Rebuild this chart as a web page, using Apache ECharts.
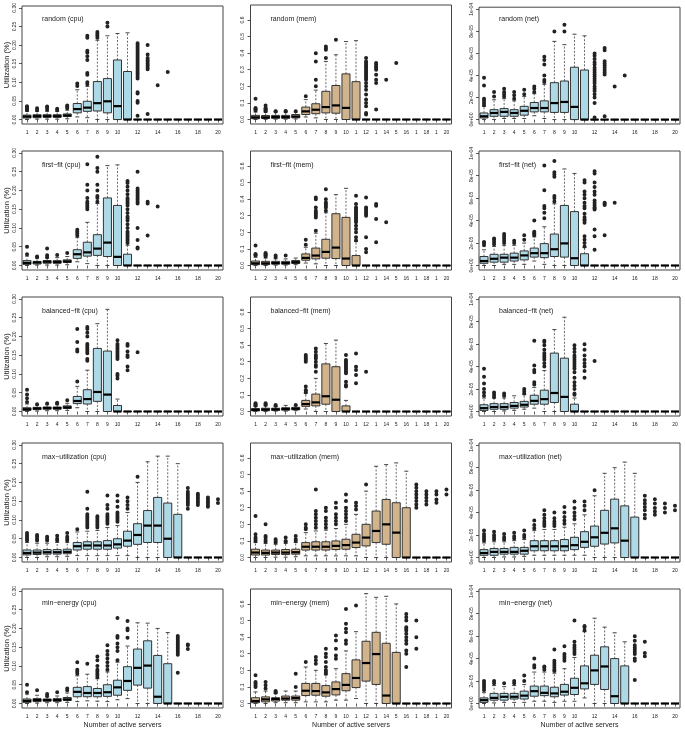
<!DOCTYPE html>
<html><head><meta charset="utf-8">
<script src="https://cdn.jsdelivr.net/npm/echarts@6/dist/echarts.min.js"></script>
<style>html,body{margin:0;padding:0;background:#fff}#c{width:685px;height:730px}</style>
</head><body><div id="c"></div>
<script>
// ---------- categories and tick labels ----------
const categories = ['1','2','3','4','5','6','7','8','9','10','11','12','13','14','15','16','17','18','19','20'];
const xTickLabels = ['1','2','3','4','5','6','7','8','9','10','','12','','14','','16','','18','','20'];
const xTickLabelsMem = ['1','2','3','4','5','6','7','8','9','10','1','12','1','14','5','16','1','18','1','20'];
const cpuTicks = [0, 0.05, 0.10, 0.15, 0.20, 0.25, 0.30];
const cpuTickLabels = ['0.00','0.05','0.10','0.15','0.20','0.25','0.30'];
const memTicks = [0, 0.1, 0.2, 0.3, 0.4, 0.5, 0.6];
const memTickLabels = ['0.0','0.1','0.2','0.3','0.4','0.5','0.6'];
// net values are stored in units of 1e-5
const netTicks = [0, 2, 4, 6, 8, 10];
const netTickLabels = ['0e+00','2e-05','4e-05','6e-05','8e-05','1e-04'];

// ---------- box statistics: [min, Q1, median, Q3, max] per category ----------
const randomCpu = [[0,0.004,0.008,0.012,0.022],[0.001,0.005,0.009,0.013,0.022],[0.001,0.006,0.009,0.013,0.022],[0.001,0.006,0.009,0.013,0.022],[0.002,0.008,0.011,0.015,0.025],[0.007,0.018,0.028,0.043,0.080],[0.005,0.022,0.032,0.049,0.089],[0,0.023,0.044,0.102,0.213],[0,0.018,0.049,0.110,0.225],[0,0,0.036,0.160,0.231],[0,0,0,0.129,0.233],[0,0,0,0,0],[0,0,0,0,0],[0,0,0,0,0],[0,0,0,0,0],[0,0,0,0,0],[0,0,0,0,0],[0,0,0,0,0],[0,0,0,0,0],[0,0,0,0,0]];
const randomCpuOut = [[0.025,0.028,0.030,0.033,0.036],[0.025,0.030],[0.026,0.032,0.035],[0.025,0.029],[0.030,0.035,0.038],[0.090,0.097],[0.095,0.100,0.120,0.125,0.160,0.170,0.180,0.185,0.220,0.225],[0.220,0.225,0.230,0.235],[0.250,0.260],[],[],[0.010,0.045,0.050,0.070,0.073,0.110,0.115,0.120,0.125,0.130,0.135,0.140,0.145,0.150,0.155,0.160,0.165,0.170,0.175,0.180,0.185,0.190,0.195,0.200,0.205],[0.015,0.135,0.140,0.145,0.150,0.155,0.160,0.165,0.175,0.200],[0.092],[0.128],[],[],[],[],[]];

const randomMem = [[0,0.005,0.013,0.025,0.045],[0.001,0.006,0.013,0.024,0.045],[0.002,0.007,0.015,0.025,0.045],[0.002,0.007,0.015,0.025,0.045],[0.003,0.010,0.018,0.030,0.045],[0.015,0.030,0.049,0.075,0.120],[0.010,0.035,0.059,0.095,0.177],[0,0.040,0.075,0.170,0.350],[0,0.038,0.085,0.205,0.390],[0,0,0.070,0.275,0.470],[0,0,0,0.228,0.475],[0,0,0,0,0],[0,0,0,0,0],[0,0,0,0,0],[0,0,0,0,0],[0,0,0,0,0],[0,0,0,0,0],[0,0,0,0,0],[0,0,0,0,0],[0,0,0,0,0]];
const randomMemOut = [[0.055,0.060,0.065,0.070,0.125],[0.050,0.055,0.060,0.065,0.070,0.085],[0.048,0.050],[0.048,0.052],[0.050],[0.140],[0.200,0.240,0.350,0.400],[0.370,0.420,0.430,0.440],[0.480],[],[],[0.030,0.040,0.080,0.100,0.120,0.150,0.180,0.200,0.220,0.240,0.250,0.260,0.270,0.280,0.290,0.300,0.310,0.320,0.330,0.340,0.350,0.370],[0.060,0.220,0.240,0.270,0.300,0.310,0.320,0.330,0.340],[0.240],[0.340],[],[],[],[],[]];

const randomNet = [[0,0.15,0.3,0.6,1.2],[0,0.3,0.6,0.9,1.8],[0.1,0.3,0.7,1.0,1.9],[0.1,0.3,0.6,0.9,1.7],[0.1,0.4,0.8,1.2,2.1],[0.35,0.7,1.05,1.55,2.35],[0.1,0.7,1.05,1.7,3.2],[0,0.65,1.5,3.35,7.1],[0,0.65,1.6,3.5,6.8],[0,0,1.15,4.75,7.75],[0,0,0,4.5,7.6],[0,0,0,0,0],[0,0,0,0,0],[0,0,0,0,0],[0,0,0,0,0],[0,0,0,0,0],[0,0,0,0,0],[0,0,0,0,0],[0,0,0,0,0],[0,0,0,0,0]];
const randomNetOut = [[1.3,1.5,1.7,1.9,3.1,3.8],[2.1,2.5],[2.1,2.3,2.5,2.8],[1.9,2.2,2.5],[2.3,2.7],[2.5,2.8,3.0],[3.4,3.6,4.0,5.0,5.4,5.7],[8.0],[8.0,8.6],[],[],[0.2,1.5,2.0,2.3,2.6,2.8,3.0,3.3,3.5,3.7,3.9,4.1,4.3,4.5,4.7,5.0,5.2,5.5,5.8,6.0],[0.3,4.1,4.3,4.5,4.7,4.9,5.1,5.3,6.3,6.5],[3.0],[4.0],[],[],[],[],[]];

const firstCpu = [[0,0.003,0.007,0.013,0.025],[0.001,0.004,0.008,0.011,0.020],[0.001,0.006,0.010,0.013,0.020],[0.001,0.006,0.009,0.013,0.021],[0.002,0.008,0.011,0.015,0.024],[0.010,0.019,0.030,0.042,0.075],[0.005,0.025,0.035,0.062,0.115],[0,0.027,0.045,0.082,0.165],[0,0.024,0.061,0.180,0.266],[0,0,0.023,0.160,0.268],[0,0,0,0.030,0.054],[0,0,0,0,0],[0,0,0,0,0],[0,0,0,0,0],[0,0,0,0,0],[0,0,0,0,0],[0,0,0,0,0],[0,0,0,0,0],[0,0,0,0,0],[0,0,0,0,0]];
const firstCpuOut = [[0.030,0.050],[0.022,0.024],[0.022,0.027,0.045],[0.028],[0.033],[0.080,0.085,0.090,0.095],[0.150,0.155,0.160,0.165,0.170,0.180,0.200,0.215,0.270],[0.170,0.180,0.185,0.200,0.215,0.250,0.260,0.290],[],[],[0.060,0.065,0.070,0.075,0.080,0.085,0.090,0.100,0.110,0.120,0.125,0.130,0.140,0.150,0.160,0.165,0.170,0.175,0.180,0.190,0.200,0.210,0.220,0.225],[0.045,0.048,0.068,0.100,0.165,0.170,0.175,0.180,0.185,0.190,0.195,0.200,0.205,0.250],[0.080,0.165,0.170],[0.157],[],[],[],[],[],[]];

const firstMem = [[0,0.005,0.013,0.027,0.050],[0,0.005,0.013,0.025,0.045],[0.002,0.008,0.015,0.025,0.040],[0.002,0.008,0.015,0.025,0.040],[0.005,0.012,0.020,0.030,0.045],[0.015,0.032,0.046,0.070,0.110],[0.010,0.040,0.060,0.105,0.195],[0,0.044,0.082,0.158,0.318],[0,0.042,0.108,0.312,0.427],[0,0,0.042,0.290,0.465],[0,0,0,0.060,0.145],[0,0,0,0,0],[0,0,0,0,0],[0,0,0,0,0],[0,0,0,0,0],[0,0,0,0,0],[0,0,0,0,0],[0,0,0,0,0],[0,0,0,0,0],[0,0,0,0,0]];
const firstMemOut = [[0.060,0.065,0.070,0.120],[0.055,0.060,0.065,0.070,0.075],[0.050,0.060],[0.060],[],[0.125,0.155],[0.210,0.290,0.300,0.310,0.320,0.330,0.350,0.400,0.410],[0.330,0.350,0.360,0.370,0.380,0.400,0.460],[],[],[0.150,0.170,0.200,0.220,0.240,0.260,0.270,0.280,0.290,0.300,0.310,0.320,0.330,0.340,0.350,0.370,0.420],[0.080,0.100,0.170,0.300,0.310,0.320,0.330,0.340,0.350,0.410],[0.140,0.280,0.360,0.370],[0.260],[],[],[],[],[],[]];

const firstNet = [[0,0.2,0.4,0.8,1.4],[0,0.3,0.6,1.0,1.7],[0.1,0.3,0.7,1.0,1.8],[0.1,0.4,0.7,1.1,1.8],[0.1,0.5,0.9,1.3,2.0],[0.4,0.75,1.1,1.55,2.55],[0.1,0.7,1.1,1.95,3.45],[0,0.8,1.45,2.8,5.5],[0,0.75,1.97,5.35,8.6],[0,0,0.65,4.8,8.2],[0,0,0,1.05,1.6],[0,0,0,0,0],[0,0,0,0,0],[0,0,0,0,0],[0,0,0,0,0],[0,0,0,0,0],[0,0,0,0,0],[0,0,0,0,0],[0,0,0,0,0],[0,0,0,0,0]];
const firstNetOut = [[1.8,2.0,2.1],[1.9,2.1,2.3,2.4],[2.0,2.2,2.4,2.6,2.8],[2.0,2.2],[2.3,2.7],[2.7,2.8,2.9,3.0,4.0],[4.2,4.7,5.1,5.3,6.7,8.9],[5.7,6.0,6.2,7.9,8.1,8.3,9.3],[],[],[1.7,2.0,2.3,2.6,3.8,4.0,4.1,4.3,4.6,5.1,5.3,5.6,6.0,6.3,6.6,7.4,7.6],[1.4,2.6,3.2,5.0,5.1,5.2,5.4,5.6,5.8,6.3,6.6,7.0,7.4,8.2,8.4],[2.7,5.4,5.5,5.6],[5.6],[],[],[],[],[],[]];

const balCpu = [[0,0.003,0.006,0.010,0.020],[0.001,0.005,0.008,0.011,0.017],[0.002,0.006,0.009,0.012,0.018],[0.002,0.006,0.009,0.012,0.018],[0.003,0.008,0.011,0.015,0.022],[0.010,0.021,0.028,0.040,0.067],[0,0.020,0.033,0.058,0.110],[0,0.027,0.052,0.168,0.234],[0,0,0.045,0.161,0.272],[0,0,0,0.016,0.033],[0,0,0,0,0],[0,0,0,0,0],[0,0,0,0,0],[0,0,0,0,0],[0,0,0,0,0],[0,0,0,0,0],[0,0,0,0,0],[0,0,0,0,0],[0,0,0,0,0],[0,0,0,0,0]];
const balCpuOut = [[0.025,0.035,0.045,0.058],[0.019],[0.021],[0.021,0.023],[0.030],[0.080,0.160,0.165,0.185,0.220],[0.135,0.140,0.155,0.160,0.165,0.170,0.175,0.180,0.200,0.210,0.220,0.225],[],[],[0.088,0.095,0.100,0.140,0.145,0.150,0.155,0.160,0.165,0.170,0.175,0.180,0.190],[0.110,0.120,0.145,0.150,0.160,0.175,0.180],[0.158],[],[],[],[],[],[],[],[]];

const balMem = [[0,0.004,0.010,0.018,0.030],[0,0.005,0.012,0.020,0.035],[0.002,0.007,0.013,0.020,0.030],[0.002,0.008,0.015,0.023,0.037],[0.005,0.010,0.017,0.025,0.035],[0.015,0.031,0.045,0.067,0.110],[0,0.034,0.055,0.105,0.200],[0,0.044,0.092,0.287,0.410],[0,0,0.071,0.270,0.430],[0,0,0,0.034,0.067],[0,0,0,0,0],[0,0,0,0,0],[0,0,0,0,0],[0,0,0,0,0],[0,0,0,0,0],[0,0,0,0,0],[0,0,0,0,0],[0,0,0,0,0],[0,0,0,0,0],[0,0,0,0,0]];
const balMemOut = [[0.035,0.040,0.045,0.050],[0.040,0.045,0.050],[0.035,0.040],[],[0.040],[0.115,0.125,0.130,0.150,0.300,0.310,0.320,0.330,0.340],[0.240,0.270,0.280,0.300,0.320,0.330,0.340,0.360,0.380],[],[],[0.150,0.160,0.180,0.230,0.240,0.250,0.260,0.270,0.280,0.290,0.300,0.310,0.340],[0.170,0.220,0.250,0.270,0.350],[0.240],[],[],[],[],[],[],[],[]];

const balNet = [[0,0.1,0.3,0.6,1.2],[0,0.2,0.4,0.7,1.2],[0.05,0.2,0.4,0.7,1.2],[0.1,0.3,0.5,0.8,1.4],[0.2,0.4,0.6,0.9,1.5],[0.3,0.65,0.95,1.45,2.15],[0,0.65,1.1,1.9,3.65],[0,0.8,1.65,5.2,7.3],[0,0,1.3,4.75,8.4],[0,0,0,0.65,1.2],[0,0,0,0,0],[0,0,0,0,0],[0,0,0,0,0],[0,0,0,0,0],[0,0,0,0,0],[0,0,0,0,0],[0,0,0,0,0],[0,0,0,0,0],[0,0,0,0,0],[0,0,0,0,0]];
const balNetOut = [[1.4,1.7,2.0,2.5,3.1,3.8],[1.3,1.5,1.7],[1.4,1.6],[],[1.6,1.8,2.0],[2.4,2.6,3.5,3.7,4.1,6.3],[4.0,4.3,4.6,4.8,5.0,5.2,5.5,5.9,6.2,6.3],[],[],[1.5,1.6,2.0,2.3,2.6,3.0,3.5,3.8,4.0,4.2,4.4,4.6,4.8,5.0,5.3,5.6,5.9],[3.0,3.6,4.0,4.3,4.6,5.0,5.5,6.0],[4.5],[],[],[],[],[],[],[],[]];

const maxCpu = [[0,0.007,0.012,0.020,0.040],[0,0.008,0.013,0.020,0.038],[0.002,0.009,0.014,0.021,0.038],[0.002,0.009,0.014,0.021,0.040],[0.003,0.010,0.015,0.022,0.040],[0.005,0.020,0.030,0.040,0.068],[0.005,0.022,0.032,0.042,0.070],[0.005,0.022,0.032,0.042,0.072],[0.005,0.022,0.032,0.045,0.080],[0.005,0.025,0.035,0.050,0.085],[0.005,0.030,0.045,0.070,0.120],[0,0.035,0.060,0.090,0.200],[0,0.040,0.085,0.125,0.255],[0,0.040,0.085,0.160,0.270],[0,0,0.050,0.145,0.270],[0,0,0,0.115,0.250],[0,0,0,0,0],[0,0,0,0,0],[0,0,0,0,0],[0,0,0,0,0]];
const maxCpuOut = [[0.045,0.050,0.055,0.060,0.065],[0.045,0.050,0.055,0.060],[0.045,0.050,0.055],[0.045,0.050,0.058],[0.045,0.050,0.055,0.065],[0.075],[0.080,0.085,0.090,0.095,0.100,0.105,0.110,0.115,0.130,0.175],[0.080,0.085,0.090,0.095,0.100,0.105,0.110],[0.090,0.095,0.100,0.105,0.110,0.115,0.130,0.140,0.165],[0.095,0.100,0.105,0.110,0.115,0.120,0.135,0.150,0.165],[0.130,0.140,0.150,0.160],[0.215],[],[],[],[],[0.130,0.140,0.145,0.150,0.155,0.160,0.165,0.170,0.175,0.185],[0.140,0.145,0.150,0.155,0.160,0.165,0.170],[0.135,0.140,0.145,0.150,0.155,0.160],[0.145,0.155]];

const maxMem = [[0,0.015,0.030,0.050,0.090],[0,0.015,0.028,0.045,0.085],[0.002,0.018,0.030,0.045,0.080],[0.002,0.018,0.030,0.048,0.085],[0.005,0.020,0.032,0.050,0.090],[0.010,0.045,0.065,0.090,0.150],[0.010,0.045,0.065,0.095,0.160],[0.010,0.045,0.065,0.095,0.165],[0.010,0.048,0.070,0.100,0.175],[0.010,0.050,0.075,0.110,0.200],[0.010,0.060,0.090,0.140,0.260],[0,0.070,0.120,0.200,0.400],[0,0.090,0.160,0.280,0.550],[0,0.080,0.200,0.350,0.560],[0,0,0.150,0.330,0.570],[0,0,0,0.300,0.520],[0,0,0,0,0],[0,0,0,0,0],[0,0,0,0,0],[0,0,0,0,0]];
const maxMemOut = [[0.100,0.110,0.120,0.140,0.250],[0.095,0.105,0.120,0.130,0.200],[0.090,0.100,0.110],[0.095,0.100,0.120],[0.100,0.110,0.130],[0.170,0.180,0.200],[0.180,0.200,0.220,0.240,0.260,0.280,0.410],[0.180,0.200,0.220,0.240,0.280,0.300],[0.200,0.220,0.240,0.260,0.300,0.330],[0.220,0.240,0.260,0.280,0.300,0.340,0.380],[0.290,0.310,0.330],[0.440],[],[],[],[],[0.300,0.320,0.340,0.360,0.380,0.400,0.420,0.440],[0.320,0.340,0.360,0.380,0.400],[0.330,0.350,0.380,0.400],[0.380,0.410]];

const maxNet = [[0,0.2,0.4,0.7,1.3],[0,0.2,0.5,0.8,1.4],[0.05,0.3,0.5,0.8,1.4],[0.05,0.3,0.5,0.9,1.5],[0.1,0.3,0.6,0.9,1.6],[0.2,0.6,1.0,1.5,2.4],[0.2,0.6,1.0,1.5,2.5],[0.2,0.6,1.0,1.5,2.5],[0.2,0.6,1.0,1.6,2.7],[0.2,0.7,1.1,1.8,3.0],[0.2,0.9,1.4,2.3,3.8],[0,1.0,1.8,2.8,5.5],[0,1.2,2.2,4.2,7.5],[0,1.3,2.6,5.2,8.0],[0,0,1.5,4.6,8.5],[0,0,0,3.6,7.5],[0,0,0,0,0],[0,0,0,0,0],[0,0,0,0,0],[0,0,0,0,0]];
const maxNetOut = [[1.5,1.7,1.9,2.1,2.4],[1.6,1.8,2.0,2.3],[1.6,1.8,2.1],[1.7,1.9,2.2],[1.8,2.0,2.4],[2.6,2.9,3.3],[2.8,3.0,3.2,3.5,3.8,4.2],[2.8,3.0,3.2,3.5,4.0],[3.0,3.3,3.6,4.0,4.5],[3.4,3.7,4.0,4.4,5.0],[4.2,4.6,5.0],[6.0],[],[],[],[],[3.5,3.8,4.2,4.5,4.8,5.1,5.5],[3.8,4.1,4.4,4.8,5.2],[4.0,4.4,4.8],[4.2,4.6]];

const minCpu = [[0,0.003,0.007,0.012,0.025],[0.001,0.005,0.009,0.013,0.022],[0.002,0.006,0.009,0.012,0.018],[0.002,0.006,0.009,0.013,0.020],[0.003,0.008,0.011,0.016,0.028],[0.005,0.018,0.031,0.043,0.074],[0.007,0.018,0.028,0.045,0.078],[0.006,0.018,0.028,0.040,0.066],[0.005,0.019,0.030,0.050,0.084],[0.010,0.022,0.043,0.062,0.110],[0.013,0.035,0.060,0.098,0.153],[0,0.049,0.095,0.145,0.215],[0,0.041,0.101,0.167,0.214],[0,0,0.018,0.128,0.200],[0,0,0,0.106,0.189],[0,0,0,0,0],[0,0,0,0,0],[0,0,0,0,0],[0,0,0,0,0],[0,0,0,0,0]];
const minCpuOut = [[0.030,0.050],[0.035],[0.020,0.025],[0.030],[0.035,0.040],[0.080,0.085,0.090,0.110],[0.106],[0.070,0.075,0.080,0.085,0.090,0.100,0.115,0.125],[0.090,0.100,0.110,0.120,0.130,0.140,0.155],[0.115,0.140,0.150,0.160,0.175,0.180,0.228],[0.175,0.195,0.200,0.220],[],[],[],[],[0.082,0.130,0.135,0.140,0.145,0.150,0.155,0.160,0.165,0.170,0.175,0.180],[0.145,0.155,0.157],[],[],[]];

const minMem = [[0,0.005,0.015,0.035,0.070],[0,0.010,0.025,0.040,0.075],[0.005,0.015,0.027,0.035,0.060],[0.005,0.020,0.030,0.045,0.075],[0.005,0.020,0.033,0.045,0.075],[0.010,0.048,0.077,0.121,0.220],[0.010,0.050,0.075,0.121,0.200],[0.010,0.044,0.067,0.108,0.173],[0.020,0.052,0.087,0.130,0.210],[0.020,0.077,0.112,0.180,0.317],[0.030,0.096,0.154,0.263,0.433],[0,0.135,0.244,0.375,0.662],[0,0.115,0.298,0.429,0.640],[0,0,0.048,0.363,0.646],[0,0,0,0.308,0.600],[0,0,0,0,0],[0,0,0,0,0],[0,0,0,0,0],[0,0,0,0,0],[0,0,0,0,0]];
const minMemOut = [[0.100,0.110,0.120,0.130,0.170],[0.090,0.110,0.130],[0.065,0.070,0.075],[],[0.100,0.180],[0.250],[0.240,0.260,0.280],[0.180,0.190,0.200,0.220,0.250,0.280,0.300,0.330],[0.270,0.290,0.330,0.380,0.410],[0.360,0.380,0.430,0.450,0.480,0.570],[0.590],[],[],[],[],[0.220,0.300,0.320,0.360,0.380,0.400,0.420,0.440,0.450,0.460,0.500,0.520,0.540],[0.330,0.400,0.500],[],[],[]];

const minNet = [[0,0.1,0.3,0.5,1.0],[0.05,0.3,0.5,0.9,1.6],[0.1,0.3,0.6,0.9,1.5],[0.1,0.4,0.6,0.9,1.6],[0.1,0.4,0.7,1.1,1.7],[0.2,0.65,1.1,1.55,2.8],[0.2,0.7,0.95,1.55,2.8],[0.1,0.6,0.9,1.45,2.7],[0.2,0.75,1.05,1.7,3.1],[0.2,0.8,1.4,2.25,4.1],[0.5,1.3,1.8,3.35,6.4],[0,1.7,2.95,4.3,7.6],[0,1.25,3.3,5.05,6.8],[0,0,0.65,4.0,6.3],[0,0,0,3.35,5.5],[0,0,0,0,0],[0,0,0,0,0],[0,0,0,0,0],[0,0,0,0,0],[0,0,0,0,0]];
const minNetOut = [[1.2,1.4,1.6,1.8,2.0],[1.8,2.0],[1.8],[1.8,2.0],[2.0,2.5],[3.2,3.4,4.0],[3.0,3.2,3.3],[2.9,3.0,3.2,3.4,3.6,3.8,4.8],[3.8,4.0,4.2,4.4,5.1],[4.4,4.6,4.8,5.0,5.2,5.5,7.4],[6.5,6.8,6.9],[],[],[],[],[2.1,3.8,4.0,4.4,4.6,4.8,5.0,5.2,5.6,6.0],[4.2,4.5,5.5],[],[],[]];

const panelTitles = ['random (cpu)','random (mem)','random (net)','first\u2212fit (cpu)','first\u2212fit (mem)','first\u2212fit (net)','balanced\u2212fit (cpu)','balanced\u2212fit (mem)','balanced\u2212fit (net)','max\u2212utilization (cpu)','max\u2212utilization (mem)','max\u2212utilization (net)','min\u2212energy (cpu)','min\u2212energy (mem)','min\u2212energy (net)'];
const panelStats = [randomCpu,randomMem,randomNet,firstCpu,firstMem,firstNet,balCpu,balMem,balNet,maxCpu,maxMem,maxNet,minCpu,minMem,minNet];
const panelOut = [randomCpuOut,randomMemOut,randomNetOut,firstCpuOut,firstMemOut,firstNetOut,balCpuOut,balMemOut,balNetOut,maxCpuOut,maxMemOut,maxNetOut,minCpuOut,minMemOut,minNetOut];

// ---------- layout / style ----------
const FONT = 'Liberation Sans, Arial, Helvetica, sans-serif';
const colLeft = [22, 250.5, 479];
const colWidth = 201;
const rowTop = [5, 151, 297, 443, 589];
const rowHeight = 119;
const colKind = [
  {min: -0.012, max: 0.305, ticks: cpuTicks, labels: cpuTickLabels, fill: '#ADD8E6', xlab: xTickLabels},
  {min: -0.027, max: 0.69, ticks: memTicks, labels: memTickLabels, fill: '#D2B48C', xlab: xTickLabelsMem},
  {min: -0.4, max: 10.2, ticks: netTicks, labels: netTickLabels, fill: '#ADD8E6', xlab: xTickLabels}
];

function makeRender(fill) {
  return function (params, api) {
    const x = api.value(0);
    const lo = api.value(1), q1 = api.value(2), med = api.value(3), q3 = api.value(4), hi = api.value(5);
    const bw = api.size([1, 0])[0] * 0.8;
    const pm = api.coord([x, med]);
    const cx = pm[0];
    const yLo = api.coord([x, lo])[1], yQ1 = api.coord([x, q1])[1];
    const yQ3 = api.coord([x, q3])[1], yHi = api.coord([x, hi])[1];
    const dash = {stroke: '#444', lineWidth: 0.8, lineDash: [2, 1.6]};
    const solid = {stroke: '#333', lineWidth: 0.9};
    return {
      type: 'group',
      children: [
        {type: 'line', shape: {x1: cx, y1: yQ3, x2: cx, y2: yHi}, style: dash},
        {type: 'line', shape: {x1: cx, y1: yQ1, x2: cx, y2: yLo}, style: dash},
        {type: 'line', shape: {x1: cx - bw / 4, y1: yHi, x2: cx + bw / 4, y2: yHi}, style: solid},
        {type: 'line', shape: {x1: cx - bw / 4, y1: yLo, x2: cx + bw / 4, y2: yLo}, style: solid},
        {type: 'rect', shape: {x: cx - bw / 2, y: yQ3, width: bw, height: yQ1 - yQ3}, style: {fill: fill, stroke: '#333', lineWidth: 1}},
        {type: 'line', shape: {x1: cx - bw / 2, y1: pm[1], x2: cx + bw / 2, y2: pm[1]}, style: {stroke: '#000', lineWidth: 2.2}}
      ]
    };
  };
}

const option = {animation: false, textStyle: {fontFamily: FONT}, grid: [], xAxis: [], yAxis: [], series: [], title: []};

for (let p = 0; p < 15; p++) {
  const r = Math.floor(p / 3), c = p % 3;
  const k = colKind[c];
  option.grid.push({left: colLeft[c], top: rowTop[r], width: colWidth, height: rowHeight,
    show: true, borderColor: '#444', borderWidth: 1, backgroundColor: 'transparent', containLabel: false});
  option.xAxis.push({
    type: 'category', gridIndex: p, data: categories, boundaryGap: true,
    axisLine: {show: false},
    axisTick: {show: true, alignWithLabel: true, interval: 0, length: 3, lineStyle: {color: '#333', width: 0.8}},
    axisLabel: {show: true, interval: 0, fontSize: 5, color: '#222', margin: 6, hideOverlap: false,
      formatter: (function (lab) { return function (v, i) { return lab[i]; }; })(k.xlab)},
    splitLine: {show: false},
    name: r === 4 ? 'Number of active servers' : '',
    nameLocation: 'middle', nameGap: 14, nameTextStyle: {fontSize: 7, color: '#222', fontFamily: FONT}
  });
  option.yAxis.push({
    type: 'value', gridIndex: p, min: k.min, max: k.max,
    axisLine: {show: false},
    axisTick: {show: true, customValues: k.ticks, length: 3, lineStyle: {color: '#333', width: 0.8}},
    axisLabel: {show: true, customValues: k.ticks, rotate: 90, fontSize: 5, color: '#222', margin: 5,
      formatter: (function (kk) { return function (v) {
        let best = 0; for (let i = 0; i < kk.ticks.length; i++) { if (Math.abs(kk.ticks[i] - v) < Math.abs(kk.ticks[best] - v)) best = i; }
        return kk.labels[best]; }; })(k)},
    splitLine: {show: false},
    name: c === 0 ? 'Utilization (%)' : '',
    nameLocation: 'middle', nameGap: 11, nameTextStyle: {fontSize: 7.5, color: '#222', fontFamily: FONT}
  });
  option.title.push({text: panelTitles[p], left: colLeft[c] + 15, top: rowTop[r] + 6,
    textStyle: {fontSize: 7, fontWeight: 'normal', color: '#222', fontFamily: FONT}});
  const stats = panelStats[p];
  option.series.push({
    type: 'custom', xAxisIndex: p, yAxisIndex: p,
    renderItem: makeRender(k.fill),
    encode: {x: 0, y: [1, 2, 3, 4, 5]},
    data: stats.map(function (s, i) { return [i, s[0], s[1], s[2], s[3], s[4]]; })
  });
  const pts = [];
  panelOut[p].forEach(function (vals, i) { vals.forEach(function (v) { pts.push([i, v]); }); });
  option.series.push({
    type: 'scatter', xAxisIndex: p, yAxisIndex: p, data: pts,
    symbol: 'emptyCircle', symbolSize: 2,
    itemStyle: {color: '#222', borderColor: '#222', borderWidth: 0.6, opacity: 1}, z: 3
  });
}

const chart = echarts.init(document.getElementById('c'), null, {renderer: 'canvas'});
chart.setOption(option);
</script>
</body></html>
